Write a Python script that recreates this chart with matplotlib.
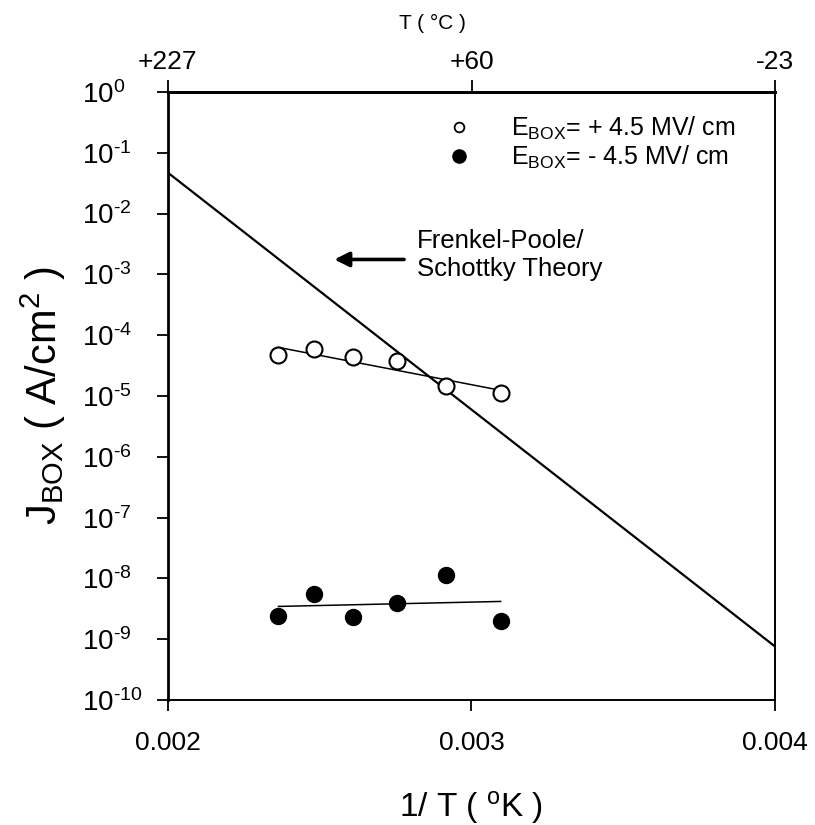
import numpy as np
import matplotlib
matplotlib.use("Agg")
import matplotlib.pyplot as plt
from matplotlib.lines import Line2D

plt.rcParams['font.family'] = ['Liberation Sans', 'DejaVu Sans']
plt.rcParams['mathtext.fontset'] = 'custom'
plt.rcParams['mathtext.rm'] = 'Liberation Sans'
plt.rcParams['mathtext.default'] = 'regular'

# measurement temperatures (deg C) and leakage current density through the buried oxide
temp_c = [150, 130, 110, 90, 70, 50]
j_pos = [4.8e-5, 5.9e-5, 4.3e-5, 3.7e-5, 1.46e-5, 1.14e-5]   # E_BOX = +4.5 MV/cm
j_neg = [2.43e-9, 5.5e-9, 2.3e-9, 3.98e-9, 1.13e-8, 2.0e-9]  # E_BOX = -4.5 MV/cm

# straight-line fits through each set (end values)
fit_pos = [6.3e-5, 1.24e-5]
fit_neg = [3.46e-9, 4.18e-9]

# Frenkel-Poole / Schottky prediction across the plotted range
theory_x = [0.002, 0.004]
theory_j = [4.7e-2, 7.6e-10]

# decades on the current axis
y_exp = list(range(-10, 1))

# top axis: temperature in deg C
top_celsius = [227, 60, -23]
top_labels = ['+227', '+60', '-23']

inv_t = [1.0 / (c + 273.0) for c in temp_c]

fig = plt.figure(figsize=(8.15, 8.25), dpi=100)
ax = fig.add_axes([0.2061, 0.1515, 0.7448, 0.7370])

ax.plot(theory_x, theory_j, color='k', lw=1.6)
ax.plot([inv_t[0], inv_t[-1]], fit_pos, color='k', lw=1.1)
ax.plot([inv_t[0], inv_t[-1]], fit_neg, color='k', lw=1.1)
ax.plot(inv_t, j_pos, 'o', ms=11.5, mfc='white', mec='k', mew=1.5, zorder=3)
ax.plot(inv_t, j_neg, 'o', ms=11.5, mfc='k', mec='k', zorder=3)

ax.set_yscale('log')
ax.set_xlim(0.002, 0.004)
ax.set_ylim(1e-10, 1e0)
ax.set_yticks([10.0 ** k for k in y_exp])
ax.set_yticklabels(['10$^{\\text{%d}}$' % k for k in y_exp])
ax.set_xticks([0.002, 0.003, 0.004])
ax.set_xticklabels(['0.002', '0.003', '0.004'])

ax.tick_params(axis='y', which='major', direction='out', length=8, width=1.3,
               labelsize=20, pad=54)
ax.tick_params(axis='y', which='minor', direction='out', length=4, width=1.0)
for lab in ax.get_yticklabels():
    lab.set_horizontalalignment('left')
ax.tick_params(axis='x', which='major', direction='out', length=8, width=1.3,
               labelsize=19, pad=14)
ax.tick_params(axis='x', which='minor', length=0)

for side in ['left', 'top']:
    ax.spines[side].set_linewidth(2.0)
for side in ['right', 'bottom']:
    ax.spines[side].set_linewidth(1.4)

ax.set_ylabel('J$_{BOX}$ ( A/cm$^{2}$ )', fontsize=30, labelpad=10)
ax.set_xlabel('1/ T ( $^{o}$K )', fontsize=24, labelpad=25)

# upper axis in degrees Celsius
top = ax.secondary_xaxis('top')
top.set_xticks([1.0 / (c + 273.0) for c in top_celsius])
top.set_xticklabels(top_labels)
top.tick_params(direction='out', length=9, width=1.3, labelsize=19, pad=4)
top.spines['top'].set_linewidth(2.0)
fig.text(432 / 815, 1 - 23 / 825, 'T ( °C )', fontsize=15, ha='center', va='center')

# arrow pointing at the theory line
ax.annotate('', xy=(0.002539, 1.76e-3), xytext=(0.002787, 1.76e-3),
            arrowprops=dict(arrowstyle='-|>', color='k', lw=2.6, mutation_scale=22))
ax.text(0.00282, 2.07e-3, 'Frenkel-Poole/\nSchottky Theory', fontsize=18.5,
        va='center', ha='left', linespacing=1.2)

handles = [
    Line2D([], [], ls='none', marker='o', ms=7, mfc='white', mec='k', mew=1.3),
    Line2D([], [], ls='none', marker='o', ms=9.5, mfc='k', mec='k'),
]
labels = ['E$_{BOX}$= + 4.5 MV/ cm', 'E$_{BOX}$= - 4.5 MV/ cm']
ax.legend(handles, labels, loc='upper right', bbox_to_anchor=(0.935, 0.963),
          frameon=False, fontsize=18, handletextpad=1.6, labelspacing=0.1,
          borderaxespad=0, borderpad=0, handlelength=1.0)

fig.savefig('out.png', dpi=100)
